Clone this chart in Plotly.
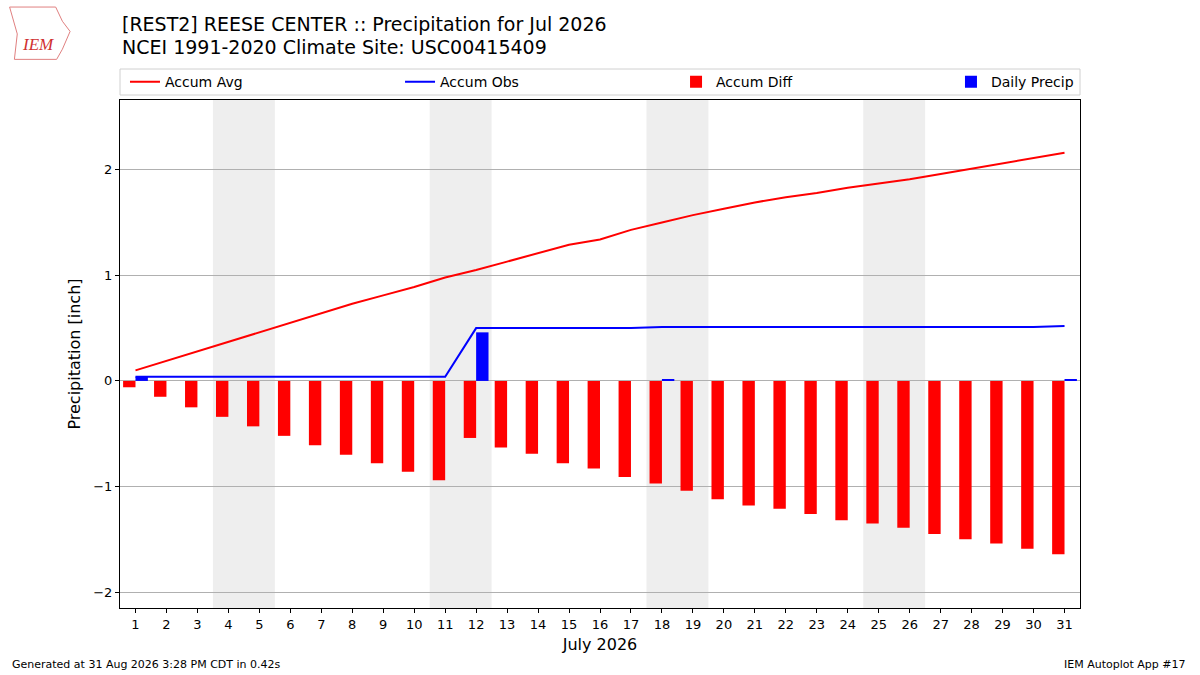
import plotly.graph_objects as go

days = list(range(1, 32))
accum_avg = [0.10, 0.19, 0.28, 0.37, 0.46, 0.55, 0.64, 0.73, 0.81, 0.89,
             0.98, 1.05, 1.13, 1.21, 1.29, 1.34, 1.43, 1.50, 1.57, 1.63,
             1.69, 1.74, 1.78, 1.83, 1.87, 1.91, 1.96, 2.01, 2.06, 2.11, 2.16]
accum_obs = [0.04] * 11 + [0.50] * 6 + [0.51] * 13 + [0.52]
accum_diff = [-0.06, -0.15, -0.25, -0.34, -0.43, -0.52, -0.61, -0.70, -0.78, -0.86,
              -0.94, -0.54, -0.63, -0.69, -0.78, -0.83, -0.91, -0.97, -1.04, -1.12,
              -1.18, -1.21, -1.26, -1.32, -1.35, -1.39, -1.45, -1.50, -1.54, -1.59, -1.64]
daily_precip = [0.04] + [0] * 10 + [0.46] + [0] * 5 + [0.01] + [0] * 12 + [0.01]
weekend_starts = [4, 11, 18, 25]  # saturdays

font = "DejaVu Sans"

fig = go.Figure()
fig.add_trace(go.Scatter(x=days, y=accum_avg, mode="lines", name="Accum Avg",
                         line=dict(color="#ff0000", width=2), legend="legend"))
fig.add_trace(go.Scatter(x=days, y=accum_obs, mode="lines", name="Accum Obs",
                         line=dict(color="#0000ff", width=2), legend="legend2"))
fig.add_trace(go.Bar(x=days, y=accum_diff, name="Accum Diff", width=0.4, offset=-0.4,
                     marker=dict(color="#ff0000", line_width=0), legend="legend3"))
fig.add_trace(go.Bar(x=days, y=daily_precip, name="Daily Precip", width=0.4, offset=0,
                     marker=dict(color="#0000ff", line_width=0), legend="legend4"))

shapes = []
for d in weekend_starts:
    shapes.append(dict(type="rect", xref="x", yref="paper", x0=d - 0.5, x1=d + 1.5,
                       y0=0, y1=1, fillcolor="#eeeeee", line_width=0, layer="below"))
# legend frame
shapes.append(dict(type="rect", xref="paper", yref="paper", x0=0, x1=1,
                   y0=1.0098, y1=1.061, line=dict(color="#d0d0d0", width=1)))
# rough Iowa-shaped logo outline
shapes.append(dict(type="path", xref="paper", yref="paper",
                   path="M -0.115 1.183 L -0.067 1.183 L -0.06 1.155 L -0.052 1.135 "
                        "L -0.06 1.1 L -0.066 1.08 L -0.11 1.08 L -0.107 1.13 Z",
                   line=dict(color="#e08080", width=1)))

leg = dict(orientation="h", yanchor="middle", y=1.035, xanchor="left",
           bgcolor="rgba(0,0,0,0)", borderwidth=0, font=dict(size=14, color="black"))
fig.update_layout(
    width=1200, height=675,
    font=dict(family=font, color="black"),
    paper_bgcolor="white", plot_bgcolor="white",
    margin=dict(l=120, r=120, t=100, b=67, autoexpand=False),
    barmode="overlay",
    showlegend=True,
    legend=dict(leg, x=0.0052),
    legend2=dict(leg, x=0.2917),
    legend3=dict(leg, x=0.5792),
    legend4=dict(leg, x=0.8656),
    shapes=shapes,
    xaxis=dict(range=[0.5, 31.5], tickmode="array", tickvals=days,
               ticktext=[str(d) for d in days], tickfont=dict(size=13),
               ticks="outside", ticklen=4, tickcolor="black",
               showline=True, linecolor="black", linewidth=1, mirror=True,
               showgrid=False, zeroline=False,
               title=dict(text="July 2026", font=dict(size=16), standoff=8)),
    yaxis=dict(range=[-2.15, 2.66], dtick=1, tickfont=dict(size=13),
               ticks="outside", ticklen=4, tickcolor="black",
               showline=True, linecolor="black", linewidth=1, mirror=True,
               showgrid=True, gridcolor="#b0b0b0", gridwidth=1, zeroline=False,
               title=dict(text="Precipitation [inch]", font=dict(size=16), standoff=8)),
    annotations=[
        dict(text="[REST2] REESE CENTER :: Precipitation for Jul 2026", xref="paper", yref="paper",
             x=0, y=1.1496, xanchor="left", yanchor="middle", showarrow=False,
             font=dict(size=19)),
        dict(text="NCEI 1991-2020 Climate Site: USC00415409", xref="paper", yref="paper",
             x=0, y=1.1043, xanchor="left", yanchor="middle", showarrow=False,
             font=dict(size=19)),
        dict(text="Generated at 31 Aug 2026 3:28 PM CDT in 0.42s", xref="paper", yref="paper",
             x=-0.1146, y=-0.1122, xanchor="left", yanchor="middle", showarrow=False,
             font=dict(size=11)),
        dict(text="IEM Autoplot App #17", xref="paper", yref="paper",
             x=1.1125, y=-0.1122, xanchor="right", yanchor="middle", showarrow=False,
             font=dict(size=11)),
        dict(text="<i>IEM</i>", xref="paper", yref="paper", x=-0.0854, y=1.110,
             xanchor="center", yanchor="middle", showarrow=False,
             font=dict(size=17, family="Liberation Serif", color="#d03030")),
    ],
)

fig.write_html("out.html", config={"displayModeBar": False},
               post_script="document.body.style.margin='0';")
